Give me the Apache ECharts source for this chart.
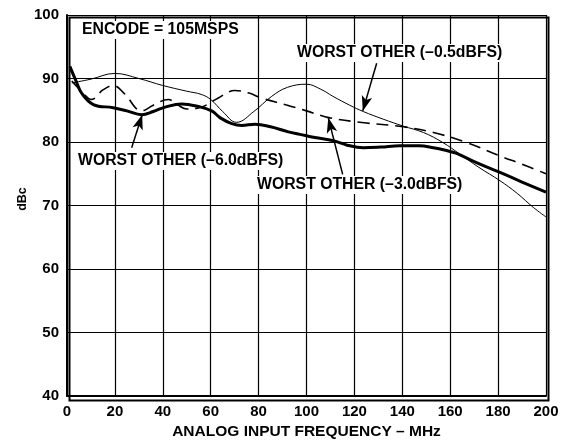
<!DOCTYPE html>
<html><head><meta charset="utf-8">
<script src="https://cdn.jsdelivr.net/npm/echarts@6/dist/echarts.min.js"></script>
<style>html,body{margin:0;padding:0;background:#fff}#c{width:571px;height:445px}</style>
</head><body><div id="c"></div>
<script>
// x ticks & y ticks
const xTicks = [0,20,40,60,80,100,120,140,160,180,200];
const yTicks = [40,50,60,70,80,90,100];
// -0.5 dBFS (thin solid)
const s05 = [[2,89.3],[10,89.9],[20,90.8],[30,90.0],[40,88.9],[50,88.0],[56,87.5],[60,86.7],[65,84.8],[70.8,83.1],[78,84.8],[85.5,87.2],[92,88.6],[100,89.1],[106,88.3],[111,87.2],[118,85.8],[123.7,84.8],[132,83.6],[140.4,82.5],[148.8,81.5],[157,79.9],[164,78.1],[172,76.0],[180.8,73.9],[188,71.9],[194.7,69.7],[200,68.2]];
// -3.0 dBFS (dashed)
const s30 = [[2,89.6],[6,88.0],[10.3,86.7],[15,88.2],[19.3,88.9],[24,87.6],[31.2,84.9],[36,85.8],[42.3,86.7],[46,85.9],[50,85.2],[56.2,85.5],[63,86.9],[70.1,88.1],[76,87.7],[81.3,86.9],[92,85.8],[100,84.9],[109.8,83.8],[125,83.0],[140.4,82.4],[153,81.5],[167,79.9],[180.8,77.8],[190,76.5],[200,75.0]];
// -6.0 dBFS (thick solid)
const s60 = [[1.2,91.9],[4,89.4],[6.1,87.7],[11,85.9],[19.3,85.4],[25,84.9],[31.2,84.3],[36,84.8],[41,85.5],[47.9,86.0],[54.8,85.6],[60.4,84.9],[64,83.8],[68.8,82.9],[73,82.6],[78.5,82.8],[85,82.4],[92.4,81.6],[97.3,81.2],[103.5,80.7],[111.2,80.2],[117,79.5],[123.7,79.1],[131,79.2],[139,79.4],[147,79.4],[153,79.1],[158,78.7],[162.7,78.2],[170,76.9],[180.8,75.2],[190,73.7],[200,72.1]];
// annotation arrows: [tail, tip] in data coordinates
const arrow05 = [[129.3,92.4],[123.5,84.9]];
const arrow30 = [[115.1,74.9],[109.1,83.8]];
const arrow60 = [[27,79.1],[31.4,84.3]];
const labels = ["ENCODE = 105MSPS","WORST OTHER (–0.5dBFS)","WORST OTHER (–3.0dBFS)","WORST OTHER (–6.0dBFS)"];

const FONT = '"Liberation Sans", Arial, Helvetica, sans-serif';
const chart = echarts.init(document.getElementById('c'), null, {renderer:'canvas'});
function arrowLine(a){
  return {silent:true, symbol:['none','arrow'], symbolSize:[8,15], label:{show:false},
    lineStyle:{color:'#000',width:1.5,type:'solid'},
    data:[[{coord:a[0]},{coord:a[1]}]]};
}
function txt(t,x,y){
  return {type:'text', left:x, top:y, z:100, style:{text:t, font:'bold 15.8px '+FONT, fill:'#000', backgroundColor:'#fff', padding:[1,2]}};
}
chart.setOption({
  animation:false,
  grid:{left:67,right:25,top:15,bottom:47,show:false},
  xAxis:{type:'value',min:0,max:200,interval:20,
    name:'ANALOG INPUT FREQUENCY – MHz',nameLocation:'middle',nameGap:28,
    nameTextStyle:{fontFamily:FONT,fontWeight:'bold',fontSize:15.5,color:'#000'},
    axisLine:{show:true,lineStyle:{color:'#000',width:2}},
    axisTick:{show:false},
    axisLabel:{fontFamily:FONT,fontWeight:'bold',fontSize:15,color:'#000',margin:8},
    splitLine:{show:true,lineStyle:{color:'#000',width:1.2}}},
  yAxis:{type:'value',min:40,max:100,interval:10,
    axisLine:{show:true,lineStyle:{color:'#000',width:2}},
    axisTick:{show:false},
    axisLabel:{fontFamily:FONT,fontWeight:'bold',fontSize:15,color:'#000',margin:8},
    splitLine:{show:true,lineStyle:{color:'#000',width:1.2}}},
  series:[
    {type:'line',name:'-0.5',data:s05,smooth:0.4,symbol:'none',lineStyle:{color:'#000',width:1},z:3,markLine:arrowLine(arrow05)},
    {type:'line',name:'-3.0',data:s30,smooth:0.4,symbol:'none',lineStyle:{color:'#000',width:1.6,type:[12,7]},z:3,markLine:arrowLine(arrow30)},
    {type:'line',name:'-6.0',data:s60,smooth:0.4,symbol:'none',lineStyle:{color:'#000',width:3},z:4,markLine:arrowLine(arrow60)}
  ],
  graphic:[
    {type:'rect',left:67,top:15,z:50,shape:{width:479,height:383},style:{fill:'none',stroke:'#000',lineWidth:2}},
    {type:'text',x:23,y:199,rotation:Math.PI/2,z:100,style:{text:'dBc',font:'bold 12.5px '+FONT,fill:'#000',align:'center',verticalAlign:'middle'}},
    txt(labels[0],80,21),
    txt(labels[1],295,44),
    txt(labels[2],255,176),
    txt(labels[3],76,152)
  ]
});
</script></body></html>
